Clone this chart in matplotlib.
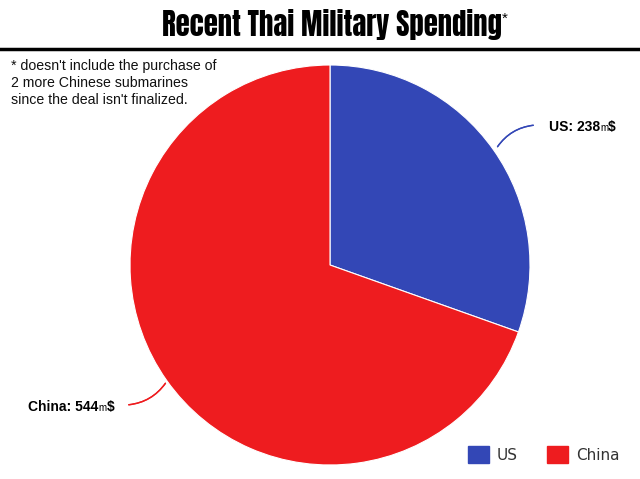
import matplotlib
matplotlib.use("Agg")
from matplotlib import pyplot as plt
from matplotlib.offsetbox import TextArea, HPacker, AnchoredOffsetbox
from matplotlib.patches import Rectangle
from matplotlib.lines import Line2D

labels = ["US", "China"]
values = [238, 544]
colors = ["#3347B6", "#EE1C1F"]
title = "Recent Thai Military Spending"
note = "* doesn't include the purchase of\n2 more Chinese submarines\nsince the deal isn't finalized."

W, H = 640, 479
fig = plt.figure(figsize=(W / 100, H / 100), dpi=100)

# title and rule
title_font = ["Anton", "Oswald", "Fjalla One", "DejaVu Sans"]
fig.text(332 / W, 1 - 25 / H, title, ha="center", va="center", fontsize=20.6,
         family=title_font)
fig.text(502 / W, 1 - 19 / H, "*", ha="left", va="center", fontsize=11,
         family="Liberation Sans")
fig.add_artist(Line2D([0, 1], [1 - 49 / H, 1 - 49 / H], color="black", lw=2.5,
                      transform=fig.transFigure))

fig.text(11 / W, 1 - 59 / H, note, ha="left", va="top", fontsize=10.2,
         family=["Arimo", "Liberation Sans"], linespacing=1.27, color="#111111")

# pie
ax = fig.add_axes([130 / W, 14 / H, 400 / W, 400 / H])
wedges, _ = ax.pie(values, colors=colors, startangle=90, counterclock=False,
                   wedgeprops=dict(edgecolor="white", linewidth=0.8))
ax.set_xlim(-1, 1)
ax.set_ylim(-1, 1)
ax.set_aspect("equal")
ax.axis("off")


def value_label(x, y, name, val):
    parts = [TextArea(f"{name}: {val}", textprops=dict(fontsize=10, fontweight="bold", family="Liberation Sans")),
             TextArea("m", textprops=dict(fontsize=7, family="Liberation Sans")),
             TextArea("$", textprops=dict(fontsize=10, fontweight="bold", family="Liberation Sans"))]
    box = HPacker(children=parts, align="baseline", pad=0, sep=0)
    ab = AnchoredOffsetbox(loc="center left", child=box, pad=0, frameon=False,
                           bbox_to_anchor=(x, y), bbox_transform=fig.transFigure,
                           borderpad=0)
    fig.add_artist(ab)


value_label(549 / W, 1 - 127 / H, labels[0], values[0])
value_label(28 / W, 1 - 407 / H, labels[1], values[1])

# leader lines
fig.add_artist(plt.annotate("", xy=(496 / W, 1 - 149 / H), xytext=(536 / W, 1 - 125 / H),
                            xycoords="figure fraction", textcoords="figure fraction",
                            arrowprops=dict(arrowstyle="-", color=colors[0], lw=1,
                                            connectionstyle="arc3,rad=0.25")))
fig.add_artist(plt.annotate("", xy=(167 / W, 1 - 381 / H), xytext=(126 / W, 1 - 405 / H),
                            xycoords="figure fraction", textcoords="figure fraction",
                            arrowprops=dict(arrowstyle="-", color=colors[1], lw=1,
                                            connectionstyle="arc3,rad=0.25")))

# legend
legend_x = [468, 547]
for lab, col, lx in zip(labels, colors, legend_x):
    fig.add_artist(Rectangle((lx / W, 1 - 463 / H), 21 / W, 17 / H, facecolor=col,
                             edgecolor=col, transform=fig.transFigure))
    fig.text((lx + 29) / W, 1 - 455 / H, lab, ha="left", va="center", fontsize=11,
             color="#333333", family="DejaVu Sans")

fig.savefig("out.png", dpi=100)
